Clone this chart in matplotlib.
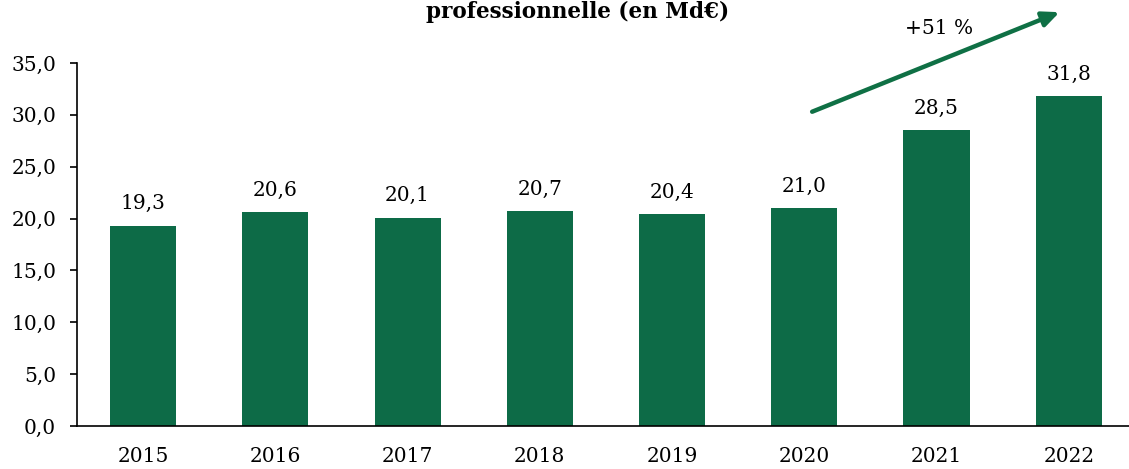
import matplotlib
matplotlib.use("Agg")
import matplotlib.pyplot as plt
from matplotlib.ticker import FuncFormatter

# Data
years = ["2015", "2016", "2017", "2018", "2019", "2020", "2021", "2022"]
values = [19.3, 20.6, 20.1, 20.7, 20.4, 21.0, 28.5, 31.8]
growth_label = "+51 %"
title_line = "professionnelle (en Md€)"

green = "#0D6B47"

plt.rcParams["font.family"] = ["DejaVu Serif"]

fig = plt.figure(figsize=(11.29, 4.69), dpi=100)
ax = fig.add_axes([0.0682, 0.0917, 0.937, 0.774])

x = range(len(years))
ax.bar(x, values, width=0.5, color=green)

# Value labels above the bars
for xi, v in zip(x, values):
    ax.annotate(f"{v:.1f}".replace(".", ","), (xi, v), xytext=(0, 9),
                textcoords="offset points", ha="center", va="bottom", fontsize=14.5)

ax.set_xlim(-0.5, 7.5)
ax.set_ylim(0, 35)
ax.set_yticks(range(0, 36, 5))
ax.yaxis.set_major_formatter(FuncFormatter(lambda v, p: f"{v:.1f}".replace(".", ",")))
ax.set_xticks(list(x))
ax.set_xticklabels(years)
ax.tick_params(axis="x", length=0, labelsize=14.5, pad=15)
ax.tick_params(axis="y", length=5, labelsize=14.5, width=1.2, pad=10)

for s in ["top", "right"]:
    ax.spines[s].set_visible(False)
for s in ["left", "bottom"]:
    ax.spines[s].set_linewidth(1.2)

# Growth arrow
ax.annotate("", xy=(6.95, 40.0), xytext=(5.04, 30.2), annotation_clip=False,
            arrowprops=dict(arrowstyle="-|>,head_length=1.0,head_width=0.45",
                            color="#0F7045", lw=3.2))
ax.text(6.02, 38.3, growth_label, ha="center", va="center", fontsize=14.5, clip_on=False)

# Title (only its last line shows in the reference)
fig.text(0.512, 1 - 18 / 469, title_line, ha="center", va="baseline",
         fontsize=15.5, fontweight="bold")

fig.savefig("out.png", dpi=100)
